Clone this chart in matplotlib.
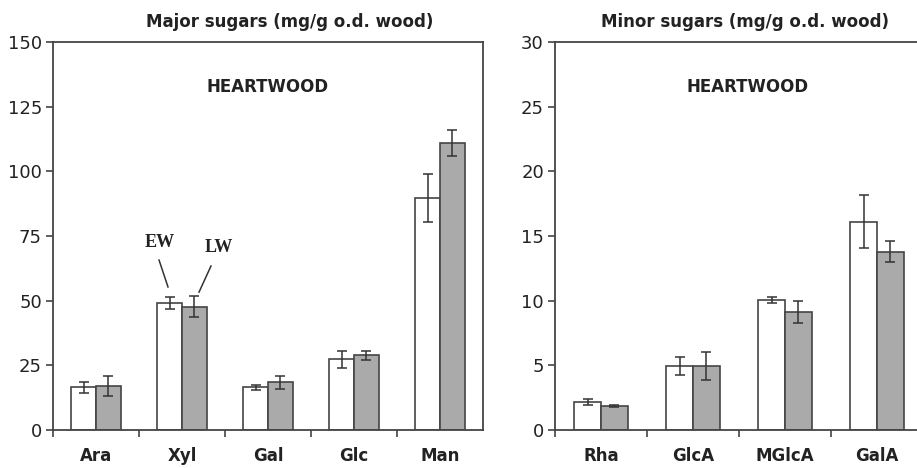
import matplotlib
matplotlib.use("Agg")
from matplotlib import pyplot as plt
import numpy as np

plt.rcParams['font.family'] = ['DejaVu Sans']

major_cats = ["Ara", "Xyl", "Gal", "Glc", "Man"]
major_ew = [16.5, 49.2, 16.5, 27.3, 89.7]
major_ew_err = [2.2, 2.3, 1.0, 3.4, 9.3]
major_lw = [17.0, 47.7, 18.4, 28.9, 111.0]
major_lw_err = [3.7, 4.1, 2.4, 1.8, 4.9]

minor_cats = ["Rha", "GlcA", "MGlcA", "GalA"]
minor_ew = [2.2, 4.95, 10.06, 16.1]
minor_ew_err = [0.23, 0.67, 0.26, 2.04]
minor_lw = [1.86, 4.95, 9.1, 13.8]
minor_lw_err = [0.1, 1.06, 0.85, 0.8]

text_col = "#222222"
edge_col = "#444444"
lw_fill = "#aaaaaa"

fig = plt.figure(figsize=(9.17, 4.68), dpi=100)
ax1 = fig.add_axes([53/917, 1-430/468, 430/917, 388/468])
ax2 = fig.add_axes([555/917, 1-430/468, 368/917, 388/468])

def draw_panel(ax, cats, ew, ew_err, lw, lw_err, ymax, ystep, hx):
    n = len(cats)
    x = np.arange(n) + 0.5
    w = 0.29
    ax.bar(x - w/2, ew, w, color="white", edgecolor=edge_col, linewidth=1.2, zorder=2)
    ax.bar(x + w/2, lw, w, color=lw_fill, edgecolor=edge_col, linewidth=1.2, zorder=2)
    ax.errorbar(x - w/2, ew, yerr=ew_err, fmt="none", ecolor="#333333", elinewidth=1.1,
                capsize=3.5, capthick=1.1, zorder=3)
    ax.errorbar(x + w/2, lw, yerr=lw_err, fmt="none", ecolor="#333333", elinewidth=1.1,
                capsize=3.5, capthick=1.1, zorder=3)
    ax.set_xlim(0, n)
    ax.set_ylim(0, ymax)
    ax.set_yticks(np.arange(0, ymax + 1, ystep))
    ax.set_xticks(np.arange(n))
    ax.set_xticklabels([])
    ax.set_xticks(x, minor=True)
    ax.set_xticklabels(cats, minor=True, fontweight="bold", fontsize=12, color=text_col)
    ax.tick_params(axis="x", which="major", direction="out", length=5, width=1.2, color=edge_col)
    ax.tick_params(axis="x", which="minor", length=0, pad=12)
    ax.tick_params(axis="y", direction="out", length=5, width=1.2, color=edge_col,
                   labelsize=13, labelcolor=text_col, pad=3)
    for s in ax.spines.values():
        s.set_color(edge_col)
        s.set_linewidth(1.3)
    ax.text(hx, 0.885, "HEARTWOOD", transform=ax.transAxes, ha="center", va="center",
            fontsize=12, fontweight="bold", color=text_col)

draw_panel(ax1, major_cats, major_ew, major_ew_err, major_lw, major_lw_err, 150, 25, 0.498)
draw_panel(ax2, minor_cats, minor_ew, minor_ew_err, minor_lw, minor_lw_err, 30, 5, 0.524)

fig.text(290/917, 1-22/468, "Major sugars (mg/g o.d. wood)", ha="center", va="center",
         fontsize=12, fontweight="bold", color=text_col)
fig.text(745/917, 1-22/468, "Minor sugars (mg/g o.d. wood)", ha="center", va="center",
         fontsize=12, fontweight="bold", color=text_col)

# EW / LW labels with leader lines
serif = ["Liberation Serif", "DejaVu Serif"]
ax1.text(1.244, 72.3, "EW", ha="center", va="center", fontsize=13, fontweight="bold",
         family=serif, color=text_col)
ax1.text(1.93, 70.7, "LW", ha="center", va="center", fontsize=13, fontweight="bold",
         family=serif, color=text_col)
ax1.plot([1.233, 1.337], [65.7, 55.3], color="#333333", lw=1.1)
ax1.plot([1.837, 1.698], [63.4, 53.3], color="#333333", lw=1.1)

fig.savefig("out.png", dpi=100)
